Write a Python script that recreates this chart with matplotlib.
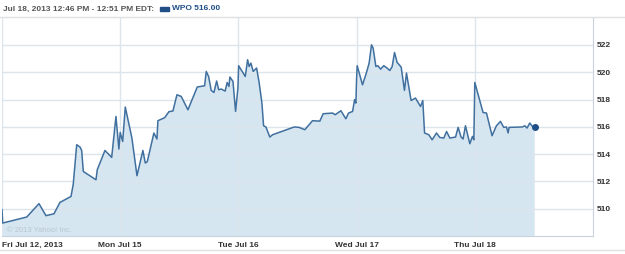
import matplotlib
matplotlib.use("Agg")
import matplotlib.pyplot as plt

plt.rcParams["font.family"] = ["Liberation Sans", "DejaVu Sans"]

# time in trading days since Fri Jul 12 open, price of WPO
fri_t = [0.000, 0.006, 0.209, 0.313, 0.372, 0.440, 0.490, 0.584, 0.603, 0.632,
         0.660, 0.674, 0.688, 0.795, 0.806, 0.871, 0.928, 0.964, 0.989]
fri_p = [509.93, 508.95, 509.39, 510.37, 509.49, 509.63, 510.46, 510.90, 511.81, 514.69,
         514.52, 514.27, 512.73, 512.12, 512.86, 514.27, 513.76, 516.76, 514.37]

mon_t = [1.000, 1.021, 1.043, 1.099, 1.142, 1.192, 1.212, 1.229, 1.285, 1.311,
         1.319, 1.376, 1.412, 1.446, 1.480, 1.516, 1.573, 1.652, 1.714, 1.728,
         1.748, 1.770, 1.793, 1.816, 1.833, 1.855, 1.888, 1.905, 1.920, 1.928,
         1.954, 1.976, 1.996]
mon_p = [515.59, 514.93, 517.45, 515.18, 512.42, 514.27, 513.35, 513.44, 515.55, 515.11,
         516.45, 516.67, 517.11, 517.16, 518.35, 518.23, 517.25, 518.92, 519.01, 520.06,
         519.69, 518.67, 518.52, 519.36, 518.72, 518.77, 518.62, 519.25, 518.96, 519.65,
         519.33, 517.13, 518.84]

tue_t = [2.002, 2.058, 2.078, 2.091, 2.106, 2.125, 2.154, 2.176, 2.199, 2.213,
         2.233, 2.266, 2.289, 2.472, 2.514, 2.562, 2.627, 2.689, 2.717, 2.797,
         2.819, 2.867, 2.909, 2.932, 2.966, 2.983, 2.994]
tue_p = [520.48, 519.69, 520.92, 520.42, 520.67, 520.06, 520.31, 519.21, 517.74, 516.08,
         515.99, 515.25, 515.42, 515.99, 515.96, 515.79, 516.45, 516.42, 516.96, 517.01,
         516.89, 517.18, 516.59, 517.01, 517.13, 517.99, 517.74]

wed_t = [3.000, 3.005, 3.050, 3.084, 3.106, 3.126, 3.140, 3.163, 3.180, 3.203,
         3.230, 3.258, 3.281, 3.301, 3.321, 3.343, 3.377, 3.405, 3.422, 3.461,
         3.498, 3.541, 3.560, 3.575, 3.611, 3.639, 3.676, 3.704, 3.738, 3.761,
         3.789, 3.837, 3.859, 3.884, 3.901, 3.921, 3.958, 3.980, 3.992]
wed_p = [519.58, 520.48, 519.08, 519.99, 520.67, 522.01, 521.77, 520.42, 520.48, 520.23,
         520.48, 520.31, 520.13, 520.42, 521.45, 520.72, 520.38, 518.67, 519.94, 517.93,
         518.11, 517.49, 517.93, 515.55, 515.42, 515.05, 515.55, 515.22, 515.18, 515.66,
         515.18, 515.25, 515.96, 515.25, 515.11, 516.08, 514.76, 515.30, 515.05]

thu_t = [4.000, 4.070, 4.099, 4.146, 4.183, 4.217, 4.245, 4.268, 4.282, 4.290,
         4.403, 4.423, 4.442, 4.465, 4.488, 4.507]
thu_p = [519.25, 517.05, 517.01, 515.35, 516.08, 516.40, 515.96, 515.99, 515.55, 515.96,
         515.99, 516.08, 515.91, 516.28, 516.03, 516.00]

day_ticks = [0, 1, 2, 3, 4]
day_labels = ["Fri Jul 12, 2013", "Mon Jul 15", "Tue Jul 16", "Wed Jul 17", "Thu Jul 18"]
price_ticks = [510, 512, 514, 516, 518, 520, 522]

t = fri_t + mon_t + tue_t + wed_t + thu_t
p = fri_p + mon_p + tue_p + wed_p + thu_p

line_col = "#40709f"
grid_col = "#dce4ec"
text_col = "#333333"

fig = plt.figure(figsize=(6.25, 2.54), dpi=100)
ax = fig.add_axes([2 / 625, 18 / 254, 591 / 625, 219 / 254])

ax.fill_between(t, p, 500, color="#d6e6f1", lw=0, zorder=1)
ax.plot(t, p, color=line_col, lw=1.1, zorder=3)
ax.plot(t[-1], p[-1], "o", color="#1f4f86", ms=4, zorder=4)

ax.set_xlim(0, 5)
ax.set_ylim(508.0, 524.05)

ax.set_xticks(day_ticks)
ax.set_xticklabels(day_labels)
ax.set_yticks(price_ticks)
ax.yaxis.tick_right()
ax.grid(True, color=grid_col, lw=1.0, zorder=2)
ax.set_axisbelow(False)
ax.tick_params(length=0, labelsize=6, labelcolor=text_col)
ax.tick_params(axis="y", pad=3)
ax.tick_params(axis="x", pad=4)
for lab in ax.get_xticklabels() + ax.get_yticklabels():
    lab.set_fontweight("bold")
ax.get_xticklabels()[0].set_horizontalalignment("left")

for side in ["left", "top"]:
    ax.spines[side].set_visible(False)
ax.spines["right"].set_color("#c8d2dc")
ax.spines["bottom"].set_color("#c8d2dc")

# header and footer
fig.text(3 / 625, 1 - 9 / 254, "Jul 18, 2013 12:46 PM - 12:51 PM EDT:", fontsize=6,
         fontweight="bold", color="#555555", va="center")
fig.patches.append(plt.Rectangle((160 / 625, 1 - 11 / 254), 9 / 625, 4 / 254,
                                 transform=fig.transFigure, color="#1f4f86"))
fig.text(172 / 625, 1 - 9 / 254, "WPO 516.00", fontsize=6, fontweight="bold",
         color="#1f4f86", va="center")
fig.add_artist(plt.Line2D([0, 1], [1 - 16.5 / 254] * 2, color="#e0e0e0", lw=1))
fig.add_artist(plt.Line2D([0, 1], [1 - 250 / 254] * 2, color="#e0e0e0", lw=1))
ax.text(0.008, 0.02, "\u00a9 2013 Yahoo! Inc.", transform=ax.transAxes, fontsize=5.5,
        color="#b8c6d2", zorder=5)

fig.savefig("out.png", dpi=100)
